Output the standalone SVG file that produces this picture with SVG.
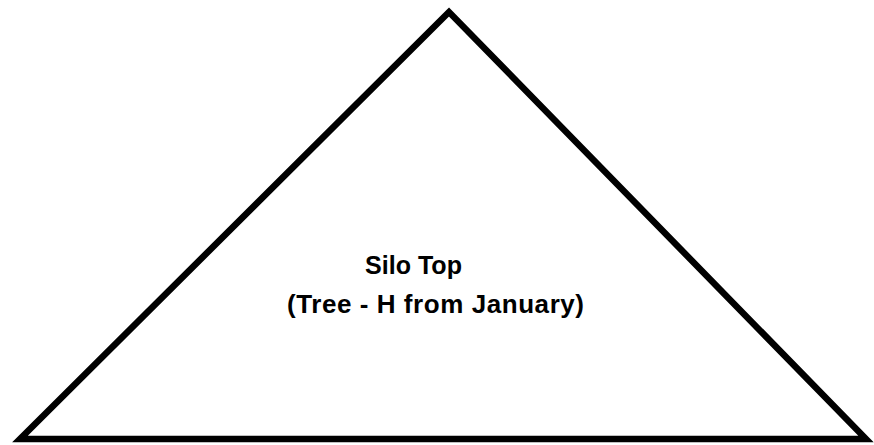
<svg xmlns="http://www.w3.org/2000/svg" width="874" height="445" viewBox="0 0 874 445">
<style>
.shape{fill:#fff;stroke:#000;stroke-width:6.5;stroke-linejoin:miter;stroke-miterlimit:10}
.lbl{font-family:"Liberation Sans",Arial,sans-serif;font-weight:bold;font-size:26px;fill:#000}
</style>
<rect width="874" height="445" fill="#fff"/>
<g id="silo-top">
<polygon class="shape" points="449,12 20,439 866,439"/>
<text class="lbl" x="365" y="274" textLength="97" lengthAdjust="spacingAndGlyphs">Silo Top</text>
<text class="lbl" x="287" y="313" textLength="297">(Tree - H from January)</text>
</g>
<g id="connectors"/>
</svg>
